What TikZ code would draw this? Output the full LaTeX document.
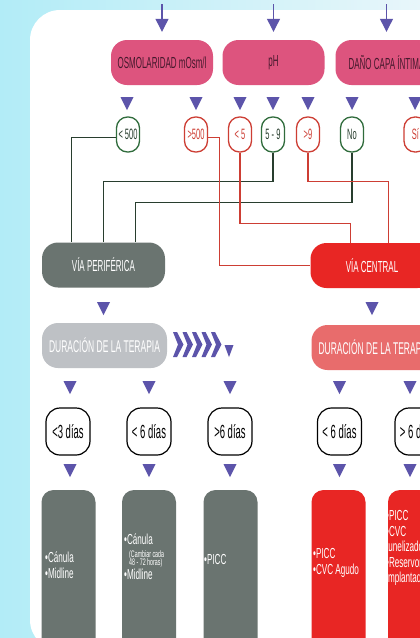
\documentclass[tikz,border=0pt]{standalone}
\usepackage{fontspec}
\setmainfont{Liberation Sans}[FakeStretch=0.5]
\newfontfamily\cellfont{Liberation Sans}[FakeStretch=0.56]
\usetikzlibrary{arrows.meta}
\definecolor{bgcyan}{RGB}{178,236,247}
\definecolor{bglight}{RGB}{232,246,250}
\definecolor{pinkbox}{RGB}{221,84,126}
\definecolor{pinktext}{RGB}{70,25,45}
\definecolor{tipc}{RGB}{92,84,170}
\definecolor{darkgray}{RGB}{106,116,112}
\definecolor{lightgray}{RGB}{190,193,197}
\definecolor{redbox}{RGB}{232,38,36}
\definecolor{salmon}{RGB}{232,108,108}
\definecolor{greenline}{RGB}{40,62,46}
\definecolor{greenoval}{RGB}{48,108,60}
\definecolor{redline}{RGB}{205,62,52}
\newcommand{\downtri}[2]{\fill[tipfill] (#1-6.5,#2) -- (#1+6.5,#2) -- (#1,#2+13) -- cycle;}

\begin{document}
\begin{tikzpicture}[x=1pt,y=-1pt,
	pill/.style={rounded corners=16pt,minimum width=102pt,minimum height=45pt,inner sep=0pt,fill=pinkbox,text=pinktext,font=\fontsize{16}{16}\selectfont},
	route/.style={rounded corners=16pt,minimum width=123pt,minimum height=45pt,inner sep=0pt,text=white,font=\fontsize{16}{16}\selectfont},
	goval/.style={draw=greenoval,line width=1.3pt,fill=white,rounded corners=11pt,minimum width=23pt,minimum height=35pt,inner sep=0pt,text=greenline,font=\fontsize{15}{15}\selectfont},
	roval/.style={goval,draw=redline,text=redline},
	dayoval/.style={draw=black,line width=1.2pt,fill=white,rounded corners=14pt,minimum width=44pt,minimum height=47pt,inner sep=0pt,font=\fontsize{19}{19}\selectfont},
	cell/.style={rounded corners=12pt,minimum width=54pt,minimum height=170pt,inner sep=0pt},
	celltext/.style={anchor=west,align=left,inner sep=0pt,text=white,font=\cellfont\fontsize{14.5}{15.5}\selectfont},
	darkline/.style={draw=greenline,line width=1.3pt},
	redwire/.style={draw=redline,line width=1.3pt},
	tipfill/.style={fill=tipc},
	topin/.style={draw=tipc,line width=1.2pt,-{Triangle[width=13pt,length=13pt]}}]

	\useasboundingbox (0,0) rectangle (420,638);
	\clip (0,0) rectangle (420,638);

	% background and panel
	\shade[left color=bgcyan,right color=bglight] (0,0) rectangle (420,638);
	\fill[white,rounded corners=30pt] (30,10) rectangle (480,650);

	% criteria
	\node[pill] (osmo) at (162,62.5) {OSMOLARIDAD mOsm/l};
	\node[pill] (ph) at (273.5,62.5) {pH};
	\node[pill] (dano) at (386.5,62.5) {DAÑO CAPA ÍNTIMA};

	\coordinate (in1) at (162,4);
	\coordinate (in2) at (273.5,4);
	\coordinate (in3) at (386.5,4);
	\draw[topin,shorten >=8pt] (in1) -- (osmo.north);
	\draw[topin,shorten >=8pt] (in2) -- (ph.north);
	\draw[topin,shorten >=8pt] (in3) -- (dano.north);

	\foreach \x in {127,196,240,273,308,352,415}
		{\downtri{\x}{97}}

	% values
	\node[goval] (lt500) at (128,134.5) {< 500};
	\node[roval] (gt500) at (196,134.5) {>500};
	\node[roval] (lt5) at (240,134.5) {< 5};
	\node[goval] (ph59) at (273,134.5) {5 - 9};
	\node[roval] (gt9) at (308,134.5) {>9};
	\node[goval] (no) at (352,134.5) {No};
	\node[roval] (si) at (415.5,134.5) {Sí};

	% access routes
	\node[route,fill=darkgray] (periferica) at (103.5,265) {VÍA PERIFÉRICA};
	\node[route,fill=redbox] (central) at (372,265.5) {VÍA CENTRAL};

	\coordinate (vp1) at ([xshift=30pt]periferica.north west);
	\coordinate (vp3) at ([xshift=-30pt]periferica.north east);
	\coordinate (vc1) at ([xshift=40pt]central.north west);
	\coordinate (vc2) at ([xshift=-45pt]central.north east);

	\draw[darkline] ([yshift=-3pt]lt500.west) -| (vp1);
	\draw[darkline] (ph59.south) -- ++(0,29) -| (periferica.north);
	\draw[darkline] (no.south) -- ++(0,50) -| (vp3);
	\draw[redwire] ([yshift=-3pt]gt500.east) -- ++(11,0) |- (central.west);
	\draw[redwire] (lt5.south) -- ++(0,71) -| (vc1);
	\draw[redwire] (gt9.south) -- ++(0,29) -| (vc2);

	\downtri{103.5}{302}
	\downtri{372}{302}

	% duration
	\node[route,fill=lightgray,minimum width=125pt,font=\fontsize{17}{17}\selectfont] (durp) at (104.5,345.5) {DURACIÓN DE LA TERAPIA};
	\node[route,fill=salmon,minimum width=125pt,font=\fontsize{17}{17}\selectfont] (durc) at (374,347.5) {DURACIÓN DE LA TERAPIA};

	\foreach \x in {173,182.5,192,201.5,211}
		{\fill[tipfill] (\x,332) -- (\x+4,332) -- (\x+10.5,344.5) -- (\x+4,357) -- (\x,357) -- (\x+5,344.5) -- cycle;}
	\fill[tipfill] (224.5,345) -- (233.5,345) -- (229,357) -- cycle;

	\foreach \x in {70,149,230,339.5,410}
		{\downtri{\x}{381}}

	\node[dayoval] (d1) at (68,431.5) {<3 días};
	\node[dayoval] (d2) at (149,431.5) {< 6 días};
	\node[dayoval] (d3) at (230,431.5) {>6 días};
	\node[dayoval] (d4) at (339.5,431.5) {< 6 días};
	\node[dayoval] (d5) at (417,431.5) {> 6 días};

	\foreach \x in {70,149,230,339.5,410}
		{\downtri{\x}{464}}

	% devices
	\node[cell,fill=darkgray] (c1) at (68.5,575) {};
	\node[cell,fill=darkgray] (c2) at (149,575) {};
	\node[cell,fill=darkgray] (c3) at (230.5,575) {};
	\node[cell,fill=redbox] (c4) at (338.5,575) {};
	\node[cell,fill=redbox] (c5) at (415,575) {};

	\node[celltext] (t1) at (45,565) {•Cánula\\•Midline};
	\node[celltext] (t2) at (124,557) {•Cánula\\[-3pt]{\fontsize{9.5}{9}\selectfont\hspace*{5pt}(Cambiar cada}\\[-7pt]{\fontsize{9.5}{9}\selectfont\hspace*{5pt}48 - 72 horas)}\\[-1.5pt]•Midline};
	\node[celltext] (t3) at (204,560) {•PICC};
	\node[celltext] (t4) at (313,563) {•PICC\\•CVC Agudo};
	\node[celltext] (t5) at (386,548) {•PICC\\•CVC\\tunelizado\\•Reservorio\\implantado};
\end{tikzpicture}
\end{document}
